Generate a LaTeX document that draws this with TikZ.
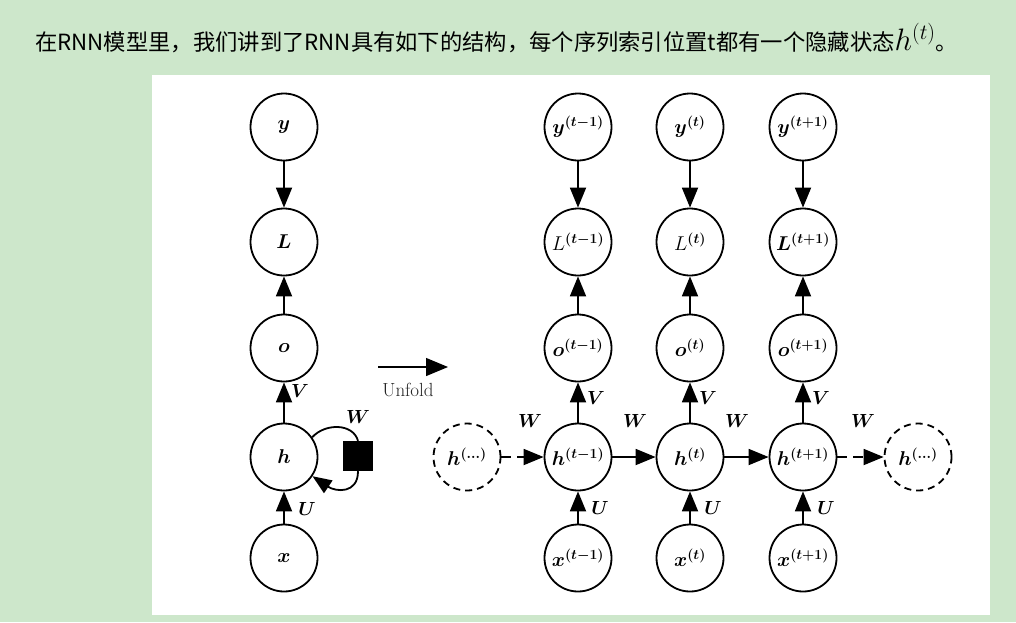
\RequirePackage{fix-cm}
\documentclass[tikz,border=0pt]{standalone}
\usepackage{fontspec}
\usepackage{bm}
\newfontfamily\cjk{Noto Sans CJK SC}
\usetikzlibrary{arrows.meta}
\definecolor{bggreen}{RGB}{205,231,203}
\begin{document}
\begin{tikzpicture}[x=1pt,y=-1pt,
  nd/.style={circle,draw,line width=1.8pt,minimum size=67pt,inner sep=0pt,font=\fontsize{20}{22}\selectfont},
  dnd/.style={nd,dash pattern=on 7pt off 5pt},
  arr/.style={line width=1.8pt,-{Triangle[length=20pt,width=16pt]}},
  darr/.style={arr,dash pattern=on 10pt off 6pt},
  lbl/.style={font=\fontsize{19}{21}\selectfont,inner sep=0pt}]
\fill[bggreen] (0,0) rectangle (1016,622);
\fill[white] (152,75) rectangle (990,615);
\useasboundingbox (0,0) rectangle (1016,622);
\node[anchor=west,inner sep=0pt,font=\cjk\fontsize{22.3}{26}\selectfont] (title) at (35,38)
  {在RNN模型里，我们讲到了RNN具有如下的结构，每个序列索引位置t都有一个隐藏状态{\fontsize{31}{31}\selectfont$h^{(t)}$}。};
% left column
\node[nd] (y0) at (284,127) {$\bm{y}$};
\node[nd] (L0) at (284,242) {$\bm{L}$};
\node[nd] (o0) at (284,348) {$\bm{o}$};
\node[nd] (h0) at (284,457) {$\bm{h}$};
\node[nd] (x0) at (284,558) {$\bm{x}$};
\node[fill=black,minimum size=30pt,inner sep=0pt] (sq) at (358,456) {};
\draw[arr] (y0) -- (L0);
\draw[arr] (o0) -- (L0);
\draw[arr] (h0) -- (o0);
\draw[arr] (x0) -- (h0);
\draw[line width=1.8pt] (h0.35) .. controls (325,423) and (353,423) .. (sq.north);
\draw[arr,-{Triangle[length=19pt,width=15pt]}] (sq.south) .. controls (358,494) and (336,492) .. (h0.-34);
\node[lbl] (V0) at (300,391) {$\bm{V}$};
\node[lbl] (U0) at (307,509) {$\bm{U}$};
\node[lbl] (W0) at (358,417) {$\bm{W}$};
% unfold
\coordinate (u1) at (378,367);
\coordinate (u2) at (448,367);
\draw[line width=1.3pt,-{Triangle[length=22pt,width=18pt]}] (u1) -- (u2);
\node[inner sep=0pt,font=\fontsize{19}{21}\selectfont,text=black!85] (unf) at (408,390) {Unfold};
% right columns
\node[nd] (y1) at (578,127) {$\bm{y^{(t-1)}}$};
\node[nd] (y2) at (690,127) {$\bm{y^{(t)}}$};
\node[nd] (y3) at (803,127) {$\bm{y^{(t+1)}}$};
\node[nd] (L1) at (578,242) {$L^{\bm{(t-1)}}$};
\node[nd] (L2) at (690,242) {$L^{\bm{(t)}}$};
\node[nd] (L3) at (803,242) {$\bm{L^{(t+1)}}$};
\node[nd] (o1) at (578,348) {$\bm{o^{(t-1)}}$};
\node[nd] (o2) at (690,348) {$\bm{o^{(t)}}$};
\node[nd] (o3) at (803,348) {$\bm{o^{(t+1)}}$};
\node[nd] (h1) at (578,457) {$\bm{h^{(t-1)}}$};
\node[nd] (h2) at (690,457) {$\bm{h^{(t)}}$};
\node[nd] (h3) at (803,457) {$\bm{h^{(t+1)}}$};
\node[nd] (x1) at (578,558) {$\bm{x^{(t-1)}}$};
\node[nd] (x2) at (690,558) {$\bm{x^{(t)}}$};
\node[nd] (x3) at (803,558) {$\bm{x^{(t+1)}}$};
\node[dnd] (hl) at (467,457) {$\bm{h^{(\dots)}}$};
\node[dnd] (hr) at (918,457) {$\bm{h^{(\dots)}}$};
\foreach \i in {1,2,3}{
  \draw[arr] (y\i) -- (L\i);
  \draw[arr] (o\i) -- (L\i);
  \draw[arr] (h\i) -- (o\i);
  \draw[arr] (x\i) -- (h\i);
}
\draw[darr] (hl) -- (h1);
\draw[arr] (h1) -- (h2);
\draw[arr] (h2) -- (h3);
\draw[darr] (h3) -- (hr);
\node[lbl] (V1) at (596,398) {$\bm{V}$};
\node[lbl] (V2) at (708,398) {$\bm{V}$};
\node[lbl] (V3) at (821,398) {$\bm{V}$};
\node[lbl] (U1) at (600,508) {$\bm{U}$};
\node[lbl] (U2) at (713,508) {$\bm{U}$};
\node[lbl] (U3) at (826,508) {$\bm{U}$};
\node[lbl] (W1) at (530,421) {$\bm{W}$};
\node[lbl] (W2) at (635,421) {$\bm{W}$};
\node[lbl] (W3) at (737,421) {$\bm{W}$};
\node[lbl] (W4) at (863,421) {$\bm{W}$};
\end{tikzpicture}
\end{document}
